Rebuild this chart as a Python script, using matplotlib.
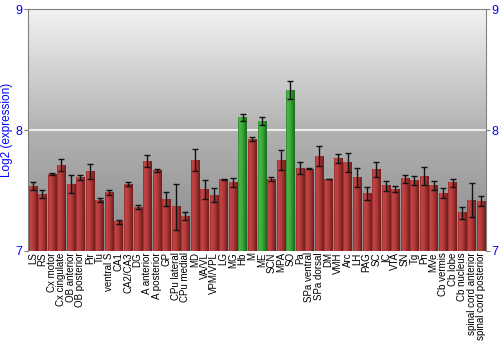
import numpy as np
import matplotlib
matplotlib.use("Agg")
import matplotlib.pyplot as plt
from matplotlib.colors import LinearSegmentedColormap

regions = ["LS", "RS", "Cx motor", "Cx cingulate", "OB anterior", "OB posterior", "Pir", "Tu",
           "ventral S", "CA1", "CA2/CA3", "DG", "A anterior", "A posterior", "GP", "CPu lateral",
           "CPu medial", "MD", "VA/VL", "VPM/VPL", "LG", "MG", "Hb", "M", "ME", "SCN", "MPA", "SO",
           "Pa", "SPa ventral", "SPa dorsal", "DM", "VMH", "Arc", "LH", "PAG", "SC", "IC", "VTA",
           "SN", "Tg", "Pn", "MVe", "Cb vermis", "Cb lobe", "Cb nucleus", "spinal cord anterior",
           "spinal cord posterior"]
values = [7.537, 7.471, 7.636, 7.708, 7.551, 7.606, 7.656, 7.421,
          7.485, 7.242, 7.554, 7.361, 7.744, 7.669, 7.430, 7.364,
          7.287, 7.752, 7.510, 7.463, 7.589, 7.565, 8.102, 7.926, 8.074, 7.595, 7.752, 8.331,
          7.683, 7.678, 7.785, 7.595, 7.766, 7.733, 7.606, 7.477, 7.675, 7.540, 7.512,
          7.598, 7.584, 7.617, 7.543, 7.477, 7.565, 7.317, 7.419,
          7.413]
errors = [0.037, 0.030, 0.010, 0.050, 0.075, 0.020, 0.065, 0.020,
          0.020, 0.015, 0.020, 0.015, 0.047, 0.012, 0.055, 0.190,
          0.035, 0.088, 0.077, 0.060, 0.005, 0.037, 0.030, 0.020, 0.030, 0.018, 0.080, 0.072,
          0.050, 0.004, 0.083, 0.003, 0.036, 0.080, 0.076, 0.052, 0.062, 0.041, 0.023,
          0.034, 0.039, 0.075, 0.039, 0.040, 0.033, 0.050, 0.141,
          0.040]
highlight = ["Hb", "ME", "SO"]

plt.rcParams['font.family'] = ['Liberation Sans', 'DejaVu Sans']

fig = plt.figure(figsize=(5, 3.5), dpi=100)
ax = fig.add_axes([0.056, 0.283, 0.916, 0.691])

ymin, ymax = 7, 9
n = len(regions)
x = np.arange(n)
ax.set_xlim(-0.5, n - 0.5)
ax.set_ylim(ymin, ymax)

# background gradient
bg = LinearSegmentedColormap.from_list("bg", ["#8a8a8a", "#b2b2b2", "#f2f2f2"])
grad = np.linspace(0, 1, 256).reshape(-1, 1)
ax.imshow(grad, aspect="auto", cmap=bg, origin="lower",
          extent=(-0.5, n - 0.5, ymin, ymax), zorder=0)

ax.axhline(8, color="#eeeeee", lw=1.5, zorder=1)

red_cm = LinearSegmentedColormap.from_list("r", [(0, "#8a2626"), (0.12, "#c44646"), (0.5, "#b43a3a"), (1, "#6e1c1c")])
green_cm = LinearSegmentedColormap.from_list("g", [(0, "#227a22"), (0.12, "#4cb84c"), (0.5, "#3aa83a"), (1, "#1b6a1b")])

heights = [v - ymin for v in values]
bars = ax.bar(x, heights, bottom=ymin, width=0.88, color="none", edgecolor="none", zorder=2)
hg = np.linspace(0, 1, 64).reshape(1, -1)
for b, name in zip(bars, regions):
    cm = green_cm if name in highlight else red_cm
    x0 = b.get_x()
    ax.imshow(hg, aspect="auto", cmap=cm,
              extent=(x0, x0 + b.get_width(), b.get_y(), b.get_y() + b.get_height()),
              zorder=2)

ax.errorbar(x, values, yerr=errors, fmt="none", ecolor="#111111", elinewidth=1,
            capsize=2.2, capthick=1, zorder=3)

ax.set_xticks(x)
ax.set_xticklabels(regions, rotation=90, fontsize=7)
ax.tick_params(axis="x", length=0, pad=1)

ax.set_yticks([7, 8, 9])
ax.tick_params(axis="y", colors="#808080", labelcolor="#0000ff", labelsize=9,
               length=3, left=True, right=True, labelleft=True, labelright=True, pad=1)
ax.set_ylabel("Log2 (expression)", color="#0000ff", fontsize=8.5, labelpad=2)

for s in ["left", "right", "top"]:
    ax.spines[s].set_color("#808080")
ax.spines["bottom"].set_visible(False)

fig.savefig("out.png", dpi=100)
